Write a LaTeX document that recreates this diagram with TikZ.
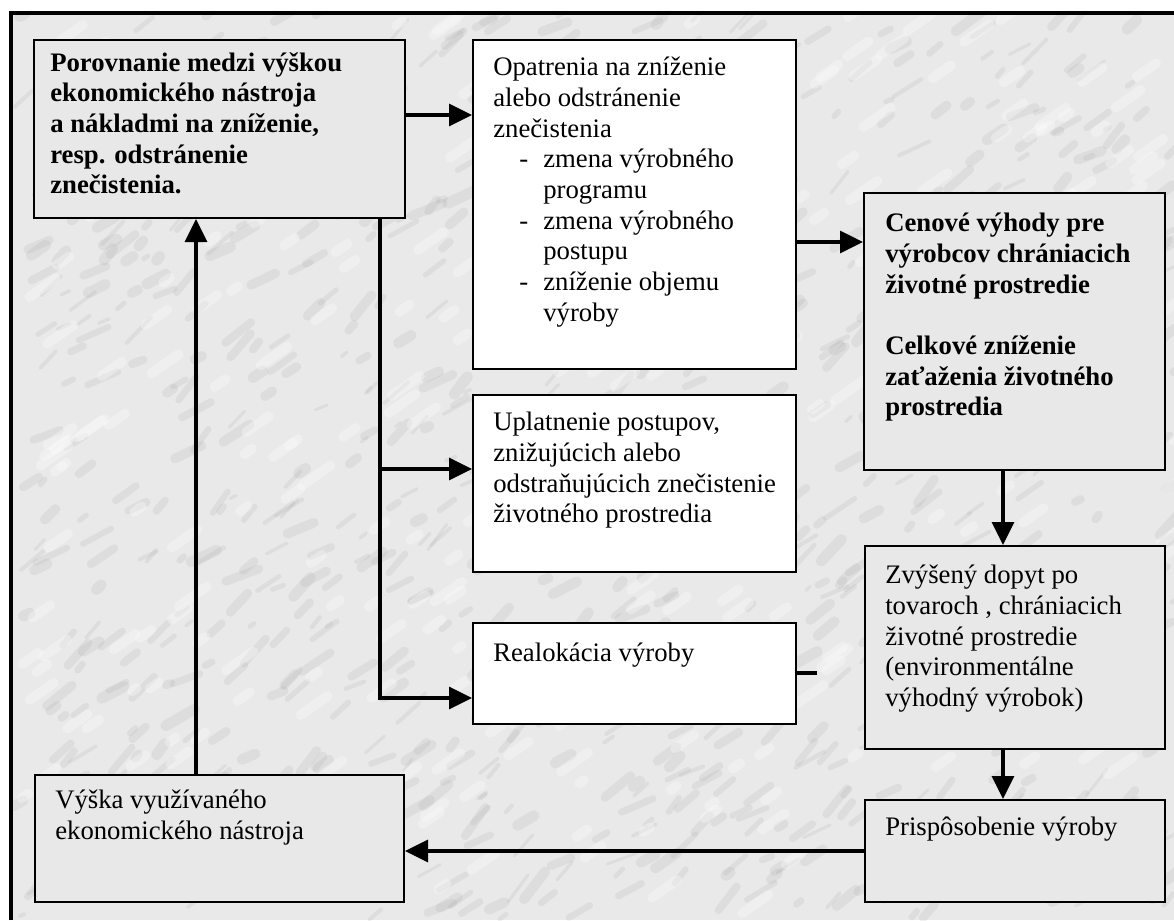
\documentclass[tikz,border=0pt]{standalone}
\usepackage{fontspec}
\setmainfont{Liberation Serif}
\usepackage{xcolor}
\usepackage{tikz}
\usetikzlibrary{arrows.meta, positioning, calc}

\definecolor{boxgray}{HTML}{E8E8E8}
\definecolor{marble}{HTML}{E9E9E9}
\definecolor{veingray}{HTML}{8E8E8E}

% odrazky v strednom boxe
\newcommand{\pol}[1]{\hspace*{0.65cm}\makebox[0.6cm][l]{-}#1}
\newcommand{\pokr}[1]{\hspace*{1.25cm}#1}

\begin{document}
\begin{tikzpicture}[x=0.025cm, y=-0.025cm, font=\fontsize{19}{21.8}\selectfont,
    box/.style={draw, line width=1.4pt, anchor=north west, inner sep=0pt},
    graybox/.style={box, fill=boxgray},
    whitebox/.style={box, fill=white},
    txt/.style={anchor=north west, inner sep=0pt, align=left},
    conn/.style={line width=2.2pt},
    arr/.style={conn, -{Triangle[length=0.575cm, width=0.55cm]}},
    vein/.style={draw=veingray, opacity=0.12, line cap=round}]
    \useasboundingbox (0,0) rectangle (1174,920);

    % Marble background
    \begin{scope}
      \clip (13,15) rectangle (1174,920);
      \fill[marble] (13,15) rectangle (1174,920);
      \pgfmathsetseed{11}
      \foreach \i in {1,...,900}{
        \pgfmathsetmacro{\vx}{13+rnd*1161}
        \pgfmathsetmacro{\vy}{15+rnd*905}
        \pgfmathsetmacro{\va}{-20-rnd*35}
        \pgfmathsetmacro{\vl}{5+rnd*30}
        \pgfmathsetmacro{\vw}{2+rnd*6}
        \draw[vein, line width=\vw pt] (\vx,\vy) -- ++(\va:\vl);
      }
      \foreach \i in {1,...,300}{
        \pgfmathsetmacro{\vx}{13+rnd*1161}
        \pgfmathsetmacro{\vy}{15+rnd*905}
        \pgfmathsetmacro{\vl}{5+rnd*30}
        \draw[white, opacity=0.3, line cap=round, line width=7pt] (\vx,\vy) -- ++(-35:\vl);
      }
    \end{scope}

    % Frame
    \draw[line width=0.1cm] (11,920) -- (11,13) -- (1174,13);

    % Boxes
    \node[graybox, minimum width=9.275cm, minimum height=4.45cm] (cmp) at (33,39) {};
    \node[whitebox, minimum width=8.075cm, minimum height=8.225cm] (opt) at (472,39) {};
    \node[graybox, minimum width=7.525cm, minimum height=6.925cm] (gain) at (863,192) {};
    \node[whitebox, minimum width=8.075cm, minimum height=4.425cm] (appl) at (472,394) {};
    \node[whitebox, minimum width=8.075cm, minimum height=2.525cm] (realoc) at (472,622) {};
    \node[graybox, minimum width=7.5cm, minimum height=5.075cm] (demand) at (864,545) {};
    \node[graybox, minimum width=7.5cm, minimum height=2.55cm] (adapt) at (864,799) {};
    \node[graybox, minimum width=9.225cm, minimum height=3.175cm] (height) at (34,774) {};

    % Texts
    \node[txt, font=\fontsize{19}{21.8}\selectfont\bfseries] (cmpt) at ([shift={(17,13)}]cmp.north west)
      {Porovnanie medzi výškou\\ ekonomického nástroja\\ a nákladmi na zníženie,\\ resp. odstránenie\\ znečistenia.};
    \node[txt] (optt) at ([shift={(21,18)}]opt.north west)
      {Opatrenia na zníženie\\ alebo odstránenie\\ znečistenia\\
       \pol{zmena výrobného}\\ \pokr{programu}\\
       \pol{zmena výrobného}\\ \pokr{postupu}\\
       \pol{zníženie objemu}\\ \pokr{výroby}};
    \node[txt, font=\fontsize{19}{21.8}\selectfont\bfseries] (gaint) at ([shift={(22,21)}]gain.north west)
      {Cenové výhody pre\\ výrobcov chrániacich\\ životné prostredie\\[21.8pt]
       Celkové zníženie\\ zaťaženia životného\\ prostredia};
    \node[txt] (applt) at ([shift={(21,18)}]appl.north west)
      {Uplatnenie postupov,\\ znižujúcich alebo\\ odstraňujúcich znečistenie\\ životného prostredia};
    \node[txt] (realoct) at ([shift={(21,21)}]realoc.north west) {Realokácia výroby};
    \node[txt] (demandt) at ([shift={(21,20)}]demand.north west)
      {Zvýšený dopyt po\\ tovaroch , chrániacich\\ životné prostredie\\ (environmentálne\\ výhodný výrobok)};
    \node[txt] (adaptt) at ([shift={(21,18)}]adapt.north west) {Prispôsobenie výroby};
    \node[txt] (heightt) at ([shift={(21,16)}]height.north west)
      {Výška využívaného\\ ekonomického nástroja};

    % Connectors
    \coordinate (trunk) at (380,698);
    \coordinate (stub) at (817,673);
    \draw[arr] (cmp.east |- 0,115) -- (opt.west |- 0,115);
    \draw[arr] (opt.east |- 0,242) -- (gain.west |- 0,242);
    \draw[arr] (cmp.south -| trunk) -- (trunk) -- (realoc.west |- trunk);
    \draw[arr] (trunk |- 0,469) -- (appl.west |- 0,469);
    \draw[arr] (gain.south -| 1003,0) -- (demand.north -| 1003,0);
    \draw[arr] (demand.south -| 1003,0) -- (adapt.north -| 1003,0);
    \draw[arr] (adapt.west) -- (height.east |- adapt.west);
    \draw[arr] (height.north -| 196,0) -- (cmp.south -| 196,0);
    \draw[conn] (realoc.east |- stub) -- (stub);

\end{tikzpicture}
\end{document}
